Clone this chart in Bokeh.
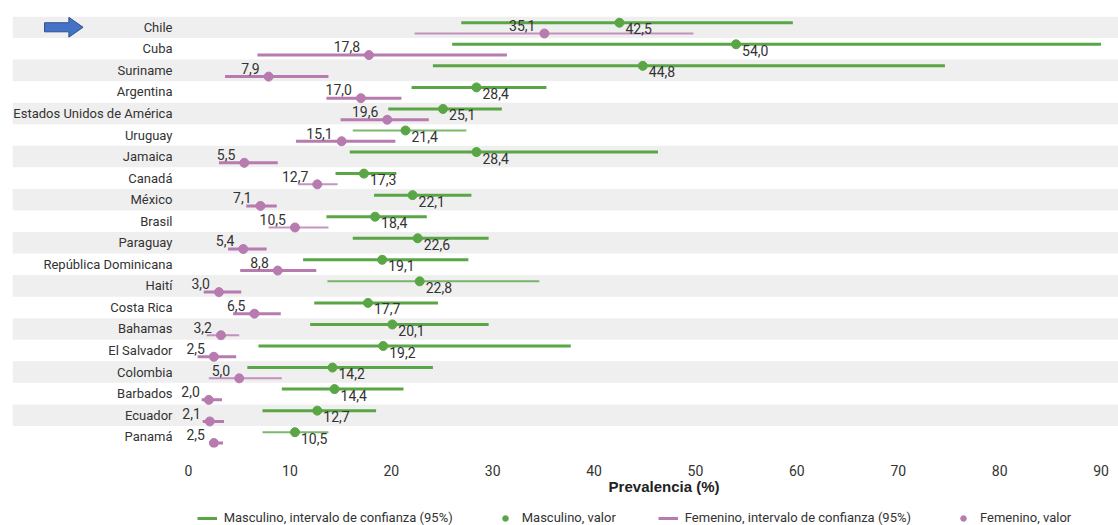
from bokeh.plotting import figure
from bokeh.layouts import column
from bokeh.models import Range1d, FixedTicker, Legend, LegendItem, Label
from bokeh.core.properties import value
from bokeh.embed import file_html
from bokeh.resources import INLINE

# Prevalence by country and sex, with 95% confidence intervals
countries = [
    "Chile", "Cuba", "Suriname", "Argentina", "Estados Unidos de América",
    "Uruguay", "Jamaica", "Canadá", "México", "Brasil", "Paraguay",
    "República Dominicana", "Haití", "Costa Rica", "Bahamas", "El Salvador",
    "Colombia", "Barbados", "Ecuador", "Panamá",
]
male_val = [42.5, 54.0, 44.8, 28.4, 25.1, 21.4, 28.4, 17.3, 22.1, 18.4,
            22.6, 19.1, 22.8, 17.7, 20.1, 19.2, 14.2, 14.4, 12.7, 10.5]
male_lo = [26.9, 26.0, 24.1, 22.0, 19.7, 16.2, 15.9, 14.5, 18.3, 13.6,
           16.2, 11.3, 13.7, 12.4, 12.0, 6.9, 5.8, 9.2, 7.3, 7.3]
male_hi = [59.6, 90.0, 74.6, 35.3, 30.9, 27.4, 46.3, 20.5, 27.9, 23.5,
           29.6, 27.6, 34.6, 24.6, 29.6, 37.7, 24.1, 21.2, 18.5, 13.8]
female_val = [35.1, 17.8, 7.9, 17.0, 19.6, 15.1, 5.5, 12.7, 7.1, 10.5,
              5.4, 8.8, 3.0, 6.5, 3.2, 2.5, 5.0, 2.0, 2.1, 2.5]
female_lo = [22.3, 6.8, 3.6, 13.6, 15.0, 10.6, 3.0, 10.8, 5.7, 7.9,
             3.9, 5.1, 1.5, 4.4, 1.8, 0.9, 2.0, 1.3, 1.4, 2.1]
female_hi = [49.8, 31.4, 13.8, 21.0, 23.7, 20.4, 8.8, 14.7, 8.7, 13.8,
             7.7, 12.6, 5.2, 9.1, 5.0, 4.7, 9.2, 3.3, 3.5, 3.4]
x_ticks = [0, 10, 20, 30, 40, 50, 60, 70, 80, 90]
legend_labels = [
    "Masculino, intervalo de confianza (95%)",
    "Masculino, valor",
    "Femenino, intervalo de confianza (95%)",
    "Femenino, valor",
]
axis_title = "Prevalencia (%)"

# intervals drawn with a lighter, thinner stroke
thin_male = {"Uruguay", "Haití", "Panamá"}
thin_female = {"Chile", "Canadá", "Brasil", "Bahamas", "Colombia"}

FONT = "Roboto"
GREEN = "#5aa646"
PINK = "#b77bb0"
BAND = "#efefef"
TEXT = "#333333"

X_MIN, X_MAX = -17.36, 91.72
n = len(countries)
ys = [n - 1 - i for i in range(n)]
y_m = [y + 0.21 for y in ys]
y_f = [y - 0.29 for y in ys]
w_m = [2 if c in thin_male else 3 for c in countries]
a_m = [0.8 if c in thin_male else 1.0 for c in countries]
w_f = [2 if c in thin_female else 3 for c in countries]
a_f = [0.8 if c in thin_female else 1.0 for c in countries]


def fmt(v):
    return f"{v:.1f}".replace(".", ",")


x_range = Range1d(X_MIN, X_MAX)

p = figure(
    width=1118, height=478,
    x_range=x_range, y_range=Range1d(-0.5, n - 0.5),
    y_axis_location=None, toolbar_location=None, output_backend="svg",
    min_border_left=12, min_border_right=0, min_border_top=16,
    min_border_bottom=30,
)
p.outline_line_color = None
p.grid.visible = False
p.background_fill_color = "white"

# alternating row bands
band_y = [y for i, y in enumerate(ys) if i % 2 == 0]
p.hbar(y=band_y, left=X_MIN, right=X_MAX, height=1.0,
       fill_color=BAND, line_color=None)

# confidence intervals and point values
p.segment(x0=male_lo, y0=y_m, x1=male_hi, y1=y_m,
          line_color=GREEN, line_width=w_m, line_alpha=a_m)
p.scatter(x=male_val, y=y_m, size=9, fill_color=GREEN, line_color=GREEN)
p.segment(x0=female_lo, y0=y_f, x1=female_hi, y1=y_f,
          line_color=PINK, line_width=w_f, line_alpha=a_f)
p.scatter(x=female_val, y=y_f, size=9, fill_color=PINK, line_color=PINK)

# value labels
p.text(x=male_val, y=[y - 0.07 for y in ys], text=[fmt(v) for v in male_val],
       x_offset=6, text_align="left", text_baseline="middle",
       text_font=value(FONT), text_font_size="14px", text_color=TEXT)
p.text(x=female_val, y=[y + 0.09 for y in ys], text=[fmt(v) for v in female_val],
       x_offset=-9, text_align="right", text_baseline="middle",
       text_font=value(FONT), text_font_size="14px", text_color=TEXT)

# country names
p.text(x=[-1.58] * n, y=ys, text=countries, text_align="right",
       text_baseline="middle", text_font=value(FONT),
       text_font_size="13px", text_color=TEXT)

# highlight arrow next to the first country
ay = ys[0]
tail, neck, tip = -14.2, -11.8, -10.4
shaft, head = 0.21, 0.46
p.patch(x=[tail, neck, neck, tip, neck, neck, tail],
        y=[ay + shaft, ay + shaft, ay + head, ay, ay - head, ay - shaft, ay - shaft],
        fill_color="#4472c4", line_color="#2f528f", line_width=1)

# x axis
ax = p.xaxis[0]
ax.ticker = FixedTicker(ticks=x_ticks)
ax.axis_line_color = None
ax.major_tick_line_color = None
ax.minor_tick_line_color = None
ax.major_label_standoff = 11
ax.major_label_text_font = FONT
ax.major_label_text_font_size = "14px"
ax.major_label_text_color = TEXT

# strip below the chart: axis title and legend
leg = figure(
    width=1118, height=47, x_range=x_range, y_range=Range1d(0, 47),
    x_axis_location=None, y_axis_location=None, toolbar_location=None,
    output_backend="svg", min_border_left=12, min_border_right=0,
    min_border_top=0, min_border_bottom=0,
)
leg.outline_line_color = None
leg.grid.visible = False

leg.add_layout(Label(x=46.9, y=39, text=axis_title, text_align="center",
                     text_baseline="middle", text_font="Liberation Sans",
                     text_font_style="bold", text_font_size="15px",
                     text_color="#222222"))

# legend keys: styled renderers holding no visible point
nan = float("nan")
r_line_m = leg.line(x=[nan, nan], y=[nan, nan], line_color=GREEN, line_width=3)
r_dot_m = leg.scatter(x=[nan], y=[nan], size=7, fill_color=GREEN, line_color=GREEN)
r_line_f = leg.line(x=[nan, nan], y=[nan, nan], line_color=PINK, line_width=3)
r_dot_f = leg.scatter(x=[nan], y=[nan], size=7, fill_color=PINK, line_color=PINK)

legend = Legend(
    items=[
        LegendItem(label=legend_labels[0], renderers=[r_line_m]),
        LegendItem(label=legend_labels[1], renderers=[r_dot_m]),
        LegendItem(label=legend_labels[2], renderers=[r_line_f]),
        LegendItem(label=legend_labels[3], renderers=[r_dot_f]),
    ],
    orientation="horizontal", location=(184.7, 0), spacing=42,
    glyph_width=20, glyph_height=14, label_standoff=7, padding=0, margin=0,
    border_line_color=None, background_fill_alpha=0,
    label_text_font=FONT, label_text_font_size="13px", label_text_color=TEXT,
)
leg.add_layout(legend)

layout = column(p, leg, spacing=0)
open("out.html", "w").write(file_html(layout, INLINE))
